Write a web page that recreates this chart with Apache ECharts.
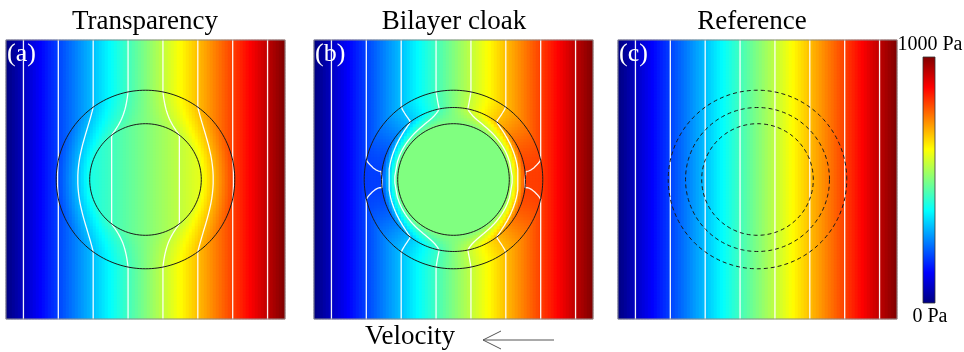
<!DOCTYPE html>
<html><head><meta charset="utf-8">
<script src="https://cdn.jsdelivr.net/npm/echarts@6/dist/echarts.min.js"></script>
<style>html,body{margin:0;padding:0;background:#fff}#c{width:964px;height:352px}</style>
</head><body><div id="c"></div>
<script>
// ---- data ----
const panelTitles = ['Transparency', 'Bilayer cloak', 'Reference'];
const panelLabels = ['(a)', '(b)', '(c)'];
const pressureRange = [0, 1000];            // Pa, colour scale
const colorbarLabels = ['1000 Pa', '0 Pa'];
const contourLevels = [62.5, 187.5, 312.5, 437.5, 562.5, 687.5, 812.5, 937.5]; // Pa
// boundary radii (fraction of panel width)
const radiiA = [0.2, 0.32];
const radiiB = [0.2, 0.258, 0.32];
const radiiC = [0.2, 0.258, 0.32];
// radial pressure profile per region, f(r) = a*r + b/r (inner -> outer, last = background)
const profileA = [[0.515, 0], [1.3115, -0.0318], [1, 0]];
const profileB = [[0, 0], [3.053, -0.1221], [0.593, 0.04168], [1, 0]];
const profileC = [[1, 0]];
const velocityLabel = 'Velocity';

// ---- build tables for the library ----
const N = 93;
const idx = Array.from({length: N}, (_, i) => i);
const pMid = (pressureRange[0] + pressureRange[1]) / 2;
const pSpan = pressureRange[1] - pressureRange[0];

function profile(r, radii, coefs) {
  let k = 0;
  while (k < radii.length && r > radii[k]) k++;
  const c = coefs[Math.min(k, coefs.length - 1)];
  return c[0] * r + (r > 0 ? c[1] / r : 0);
}
function field(radii, coefs) {
  const out = [];
  for (let i = 0; i < N; i++) {
    const x = -0.5 + (i + 0.5) / N;
    for (let j = 0; j < N; j++) {
      const y = -0.5 + (j + 0.5) / N;
      const r = Math.hypot(x, y);
      const ratio = r > 1e-9 ? profile(r, radii, coefs) / r : coefs[0][0];
      out.push([i, j, pMid + pSpan * x * ratio]);
    }
  }
  return out;
}
function contour(level, radii, coefs) {
  const v = (level - pMid) / pSpan;
  const upper = [];
  let lastX = v;
  for (let r = 0.75; r > 0; r -= 0.0005) {
    const f = profile(r, radii, coefs);
    if (f <= 0 || Math.abs(v) > f) { upper.push([lastX, 0]); break; }
    const c = v / f;
    const x = r * c, y = r * Math.sqrt(1 - c * c);
    upper.push([x, y]); lastX = x;
  }
  const lower = upper.slice().reverse().map(p => [p[0], -p[1]]);
  return upper.concat(lower);
}
function circle(r) {
  const pts = [];
  for (let k = 0; k <= 360; k++) { const t = k * Math.PI / 180; pts.push([r * Math.cos(t), r * Math.sin(t)]); }
  return pts;
}

const panels = [
  {left: 6,   fr: radiiA, co: profileA, circ: radiiA, dashed: false},
  {left: 314, fr: radiiB, co: profileB, circ: radiiB, dashed: false},
  {left: 618, fr: [],     co: profileC, circ: radiiC, dashed: true}
];
const SIZE = 279, TOP = 40;
const jet = ['#000080','#0000ff','#0080ff','#00ffff','#80ff80','#ffff00','#ff8000','#ff0000','#800000'];

const grid = [], xAxis = [], yAxis = [], series = [], graphic = [];
panels.forEach((p, k) => {
  grid.push({left: p.left, top: TOP, width: SIZE, height: SIZE, show: false});
  xAxis.push({type: 'category', data: idx, gridIndex: k, show: false});
  yAxis.push({type: 'category', data: idx, gridIndex: k, show: false});
  series.push({type: 'heatmap', xAxisIndex: k, yAxisIndex: k, data: field(p.fr, p.co),
    progressive: 0, itemStyle: {borderWidth: 0}, emphasis: {disabled: true}, silent: true, z: 1});
});
panels.forEach((p, k) => {
  const g = 3 + k;
  grid.push({left: p.left, top: TOP, width: SIZE, height: SIZE, show: true,
    borderColor: '#8a8a8a', borderWidth: 1, backgroundColor: 'transparent', z: 5});
  xAxis.push({type: 'value', min: -0.5, max: 0.5, gridIndex: g, show: false});
  yAxis.push({type: 'value', min: -0.5, max: 0.5, gridIndex: g, show: false});
  contourLevels.forEach(L => {
    series.push({type: 'line', xAxisIndex: g, yAxisIndex: g, data: contour(L, p.fr, p.co),
      showSymbol: false, symbol: 'none', silent: true, z: 3,
      lineStyle: {color: '#ffffff', width: 1.3, opacity: 0.95}});
  });
  p.circ.forEach(r => {
    series.push({type: 'line', xAxisIndex: g, yAxisIndex: g, data: circle(r),
      showSymbol: false, symbol: 'none', silent: true, z: 4,
      lineStyle: {color: '#1a1a1a', width: 1, type: p.dashed ? [4, 3] : 'solid'}});
  });
  graphic.push({type: 'text', x: [145, 454, 752][k], y: 22, z: 10,
    style: {text: panelTitles[k], fontFamily: 'Liberation Serif', fontSize: 27, fill: '#000', align: 'center', verticalAlign: 'middle'}});
  graphic.push({type: 'text', x: p.left + 1, y: 54, z: 10,
    style: {text: panelLabels[k], fontFamily: 'Liberation Serif', fontSize: 26, fill: '#fff', align: 'left', verticalAlign: 'middle'}});
});
graphic.push({type: 'text', x: 365, y: 337, z: 10,
  style: {text: velocityLabel, fontFamily: 'Liberation Serif', fontSize: 27, fill: '#000', align: 'left', verticalAlign: 'middle'}});
graphic.push({type: 'polyline', z: 10, shape: {points: [[501, 331], [483, 340], [501, 349]]}, style: {stroke: '#555', lineWidth: 1, fill: null}});
graphic.push({type: 'line', z: 10, shape: {x1: 483, y1: 340, x2: 554, y2: 340}, style: {stroke: '#555', lineWidth: 1}});

// colour bar (legend of the visual map)
const cbX = 923, cbY = 57, cbW = 12, cbH = 246;
graphic.push({type: 'rect', z: 10, shape: {x: cbX, y: cbY, width: cbW, height: cbH},
  style: {fill: {type: 'linear', x: 0, y: 0, x2: 0, y2: 1,
    colorStops: jet.slice().reverse().map((c, i) => ({offset: i / (jet.length - 1), color: c}))},
    stroke: '#333', lineWidth: 0.8}});
graphic.push({type: 'text', x: cbX + cbW / 2 + 1, y: 45, z: 10,
  style: {text: colorbarLabels[0], fontFamily: 'Liberation Serif', fontSize: 20, fill: '#000', align: 'center', verticalAlign: 'middle'}});
graphic.push({type: 'text', x: cbX + cbW / 2 + 1, y: 317, z: 10,
  style: {text: colorbarLabels[1], fontFamily: 'Liberation Serif', fontSize: 20, fill: '#000', align: 'center', verticalAlign: 'middle'}});

const chart = echarts.init(document.getElementById('c'), null, {renderer: 'canvas'});
chart.setOption({
  animation: false,
  backgroundColor: '#fff',
  grid, xAxis, yAxis, series, graphic,
  visualMap: {
    type: 'continuous', min: pressureRange[0], max: pressureRange[1], seriesIndex: [0, 1, 2],
    show: false, inRange: {color: jet}
  }
});
</script></body></html>
